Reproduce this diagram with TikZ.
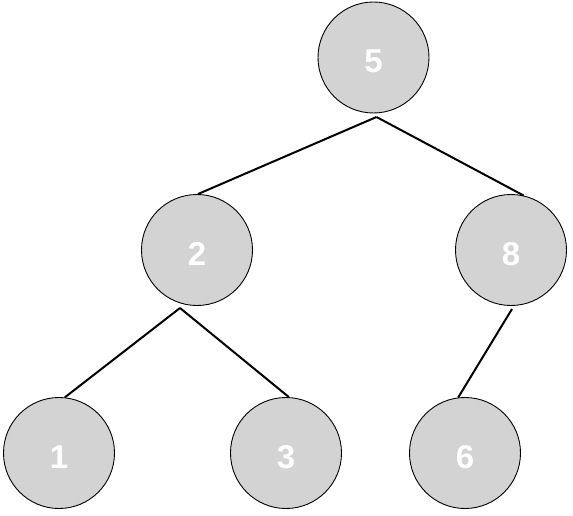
\documentclass[tikz,border=0pt]{standalone}
\usepackage{fontspec}
\setmainfont{Liberation Sans}
\usetikzlibrary{calc}
\begin{document}
\begin{tikzpicture}[x=1pt,y=-1pt,
  treenode/.style={circle,draw=black,line width=0.9pt,fill={rgb,255:red,211;green,211;blue,211},
    minimum size=111pt,inner sep=0pt,text=white,font=\fontsize{33}{33}\selectfont\bfseries,
    text height=30.7pt,text depth=0pt},
  edge/.style={line width=2pt,black}]
\useasboundingbox (0,0) rectangle (573,516);
\node[treenode] (n5) at (373.5,57.5) {5};
\node[treenode] (n2) at (197,250) {2};
\node[treenode] (n8) at (511,250) {8};
\node[treenode] (n1) at (59,453) {1};
\node[treenode] (n3) at (286,453) {3};
\node[treenode] (n6) at (465,453) {6};
\coordinate (j5) at ($(n5)+(3,59.5)$);
\coordinate (j2) at ($(n2)+(-17,58)$);
\coordinate (j8) at ($(n8)+(1,59)$);
\draw[edge] (j5) -- (n2.89);
\draw[edge] (j5) -- (n8.77);
\draw[edge] (j2) -- (n1.84);
\draw[edge] (j2) -- (n3.87);
\draw[edge] (j8) -- (n6.97);
\end{tikzpicture}
\end{document}
